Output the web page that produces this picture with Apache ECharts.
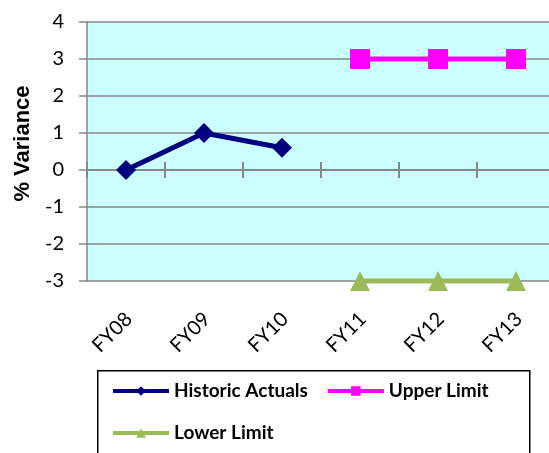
<!DOCTYPE html>
<html>
<head>
<meta charset="utf-8">
<script src="https://cdn.jsdelivr.net/npm/echarts@6/dist/echarts.min.js"></script>
<style>html,body{margin:0;padding:0;background:#fff;}#c{width:549px;height:453px;}</style>
</head>
<body>
<div id="c"></div>
<script>
var categories = ['FY08', 'FY09', 'FY10', 'FY11', 'FY12', 'FY13'];
var historicActuals = [0, 1, 0.6, null, null, null];
var upperLimit = [null, null, null, 3, 3, 3];
var lowerLimit = [null, null, null, -3, -3, -3];
var yTicks = { min: -3, max: 4, interval: 1 };
var yTitle = '% Variance';

var FONT = 'Lato, "Open Sans", sans-serif';
var GRAY = '#868686';
var chart = echarts.init(document.getElementById('c'), null, { renderer: 'canvas' });
chart.setOption({
  animation: false,
  backgroundColor: '#ffffff',
  textStyle: { fontFamily: FONT },
  grid: { left: 87, top: 22, width: 468, height: 259, outerBoundsMode: 'none', containLabel: false,
          show: true, backgroundColor: '#CCFFFF', borderWidth: 0 },
  graphic: [{
    type: 'rect', left: 97, top: 370, z: 0,
    shape: { width: 432, height: 100 },
    style: { fill: '#ffffff', stroke: '#000000', lineWidth: 1.5 }
  }],
  legend: {
    left: 111, top: 379, width: 420, padding: 0,
    itemWidth: 56, itemHeight: 12, itemGap: 18,
    lineStyle: { width: 4 },
    textStyle: { fontFamily: FONT, fontWeight: 'bold', fontSize: 19, color: '#000', lineHeight: 24 },
    data: ['Historic Actuals', 'Upper Limit', 'Lower Limit'],
    z: 5
  },
  xAxis: [{
    type: 'category', data: categories, position: 'bottom',
    axisLine: { onZero: true, onZeroAxisIndex: 0, lineStyle: { color: GRAY, width: 1.5 } },
    axisTick: { show: true, length: 8, lineStyle: { color: GRAY, width: 2 } },
    axisLabel: { show: false }, splitLine: { show: false }
  }, {
    type: 'category', data: categories, position: 'top',
    axisLine: { onZero: true, onZeroAxisIndex: 1, lineStyle: { color: GRAY, width: 1.5 } },
    axisTick: { show: true, length: 8, lineStyle: { color: GRAY, width: 2 } },
    axisLabel: { show: false }, splitLine: { show: false }
  }, {
    type: 'category', data: categories, position: 'bottom',
    axisLine: { show: false, onZero: false },
    axisTick: { show: false },
    axisLabel: { rotate: 45, margin: 32, fontSize: 20, color: '#000', fontFamily: FONT, interval: 0,
                 verticalAlign: 'top', lineHeight: 8 },
    splitLine: { show: false }
  }],
  yAxis: [{
    type: 'value', min: yTicks.min, max: yTicks.max, interval: yTicks.interval,
    name: yTitle, nameLocation: 'middle', nameGap: 52,
    nameTextStyle: { fontFamily: '"Liberation Sans", Arial, sans-serif', fontWeight: 'bold', fontSize: 22,
                     color: '#000', padding: [0, 0, 0, 16] },
    axisLine: { show: true, lineStyle: { color: GRAY, width: 1.5 } },
    axisTick: { show: true, length: 8, lineStyle: { color: GRAY, width: 1.5 } },
    axisLabel: { fontSize: 20, color: '#000', margin: 23, fontFamily: FONT },
    splitLine: { show: true, lineStyle: { color: GRAY, width: 1.5 } }
  }, {
    type: 'value', min: yTicks.min, max: yTicks.max, interval: yTicks.interval,
    show: false, position: 'left'
  }],
  series: [{
    name: 'Historic Actuals', type: 'line', data: historicActuals, xAxisIndex: 0, yAxisIndex: 0,
    symbol: 'diamond', symbolSize: 20, clip: false,
    lineStyle: { color: '#000080', width: 5 }, itemStyle: { color: '#000080' },
    emphasis: { disabled: true }
  }, {
    name: 'Upper Limit', type: 'line', data: upperLimit, xAxisIndex: 0, yAxisIndex: 0,
    symbol: 'rect', symbolSize: 20, clip: false,
    lineStyle: { color: '#FF00FF', width: 5 }, itemStyle: { color: '#FF00FF' },
    emphasis: { disabled: true }
  }, {
    name: 'Lower Limit', type: 'line', data: lowerLimit, xAxisIndex: 0, yAxisIndex: 0,
    symbol: 'triangle', symbolSize: 20, clip: false,
    lineStyle: { color: '#9BBB59', width: 5 }, itemStyle: { color: '#9BBB59' },
    emphasis: { disabled: true }
  }]
});
</script>
</body>
</html>
